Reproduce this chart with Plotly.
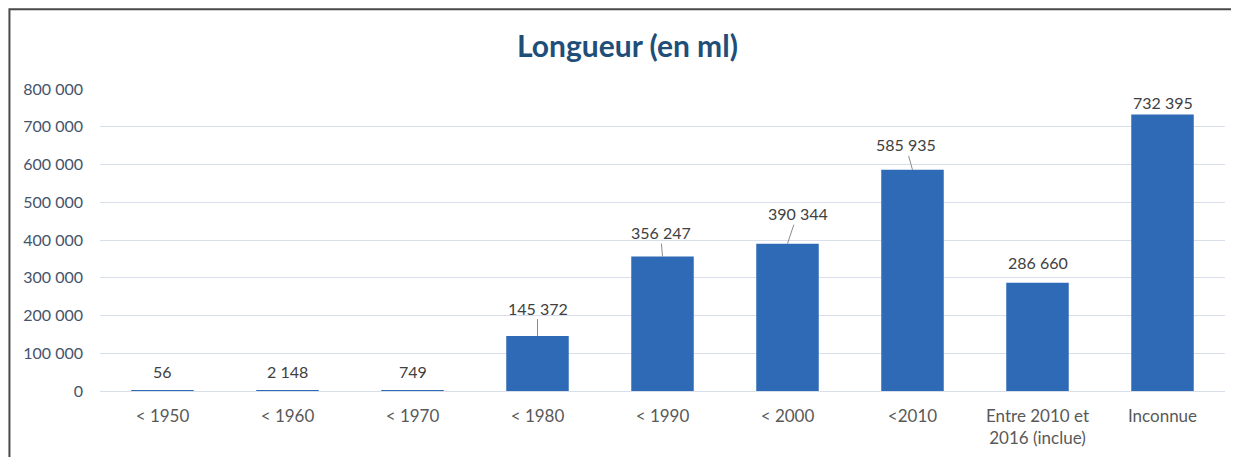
import plotly.graph_objects as go

categories = ["< 1950", "< 1960", "< 1970", "< 1980", "< 1990", "< 2000", "<2010",
              "Entre 2010 et<br>2016 (inclue)", "Inconnue"]
values = [56, 2148, 749, 145372, 356247, 390344, 585935, 286660, 732395]
y_ticks = [0, 100000, 200000, 300000, 400000, 500000, 600000, 700000, 800000]

# label styling: (leader line?, dx px, dy px above bar top)
label_style = [(False, 0, 19), (False, 0, 19), (False, 0, 19), (True, 0, 28),
               (True, -2, 24), (True, 10, 30), (True, -7, 25), (False, 0, 20), (False, 0, 12)]

FONT = "Lato"

def fmt(v):
    return f"{v:,}".replace(",", " ")

fig = go.Figure()
fig.add_trace(go.Bar(
    x=categories, y=values, width=0.5,
    marker=dict(color="#2E6AB6", line=dict(width=0)),
    hoverinfo="x+y",
))

annotations = []
for c, v, (leader, dx, dy) in zip(categories, values, label_style):
    if leader:
        annotations.append(dict(
            x=c, y=v, xref="x", yref="y", text=fmt(v), showarrow=True,
            arrowhead=0, arrowwidth=1, arrowcolor="#8C8C8C", ax=dx, ay=-dy,
            font=dict(family=FONT, size=16, color="#404040"), standoff=0,
        ))
    else:
        annotations.append(dict(
            x=c, y=v, xref="x", yref="y", text=fmt(v), showarrow=False,
            yshift=dy, xshift=dx,
            font=dict(family=FONT, size=16, color="#404040"),
        ))

fig.update_layout(
    width=1239, height=457,
    margin=dict(l=92, r=22, t=81, b=74),
    paper_bgcolor="white", plot_bgcolor="white",
    separators=", ",
    font=dict(family=FONT, size=16, color="#404040"),
    title=dict(text="<b>Longueur (en ml)</b>", x=0.5, xanchor="center",
               y=0.915, yanchor="middle",
               font=dict(family=FONT, size=30, color="#1F4E79")),
    showlegend=False,
    annotations=annotations,
    shapes=[dict(type="rect", xref="paper", yref="paper",
                 x0=-0.0805, x1=1.04, y0=-0.35, y1=1.264,
                 line=dict(color="#4A4A4A", width=2), layer="above")],
)
fig.update_xaxes(
    showgrid=False, showline=False, ticks="",
    tickfont=dict(family=FONT, size=17, color="#595959"),
    ticklabelstandoff=13,
)
fig.update_yaxes(
    range=[0, 800000], tickvals=y_ticks, tickformat=",d",
    showgrid=True, gridcolor="#D9DFEA", gridwidth=1,
    zeroline=True, zerolinecolor="#D9DFEA", zerolinewidth=1,
    tickfont=dict(family=FONT, size=16, color="#44546A"),
    ticklabelstandoff=16,
)

fig.write_html("out.html")
